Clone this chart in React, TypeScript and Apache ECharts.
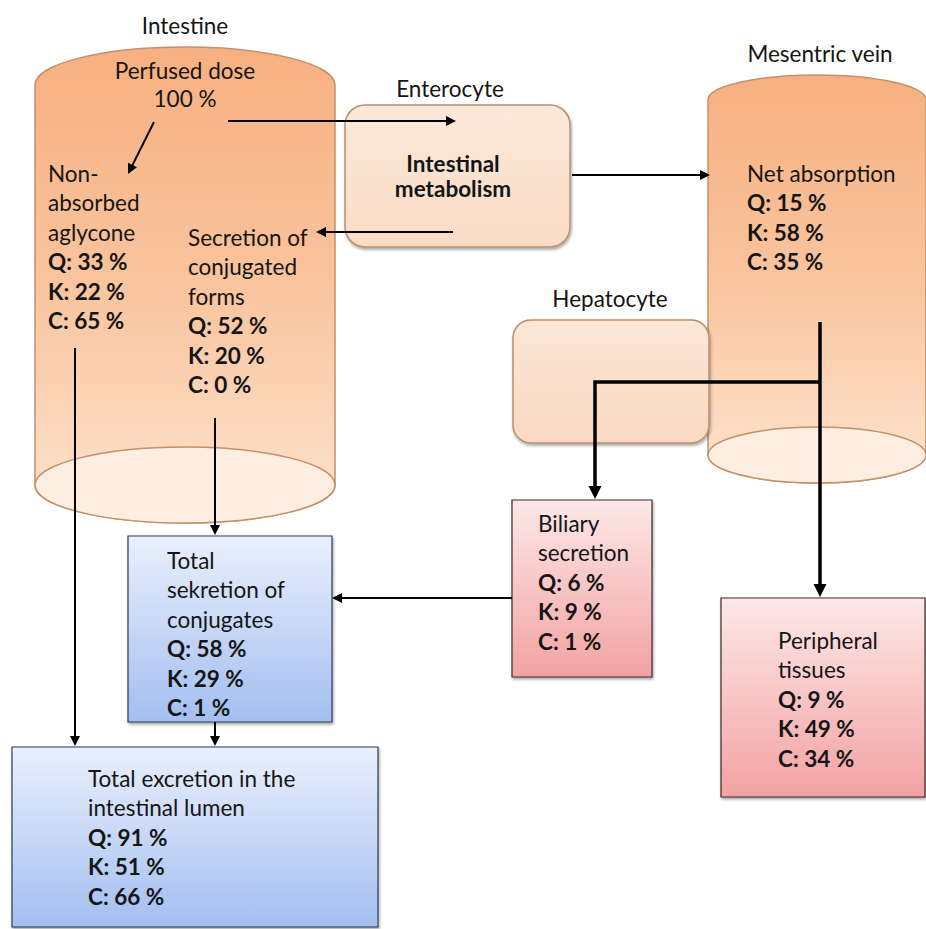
import React, { useEffect, useRef } from "react";
import * as echarts from "echarts";

// ---- data ----
const compounds = ["Q", "K", "C"];
const nonAbsorbedAglycone = [33, 22, 65];
const secretionConjugatedForms = [52, 20, 0];
const netAbsorption = [15, 58, 35];
const biliarySecretion = [6, 9, 1];
const totalSekretionConjugates = [58, 29, 1];
const totalExcretionLumen = [91, 51, 66];
const peripheralTissues = [9, 49, 34];
const perfusedDose = 100;

const FONT = "Lato, 'Open Sans', sans-serif";
const FS = 22.5;
const STEP = 29.5;

// cylinder geometry
const intestineCyl = { x0: 35, x1: 335, yTop: 85, ryTop: 38, yBot: 485, ryBot: 38 };
const veinCyl = { x0: 708, x1: 926, yTop: 100, ryTop: 25, yBot: 455, ryBot: 28 };

function cylPath(c: any) {
  const rx = (c.x1 - c.x0) / 2;
  return `M${c.x0} ${c.yTop} A${rx} ${c.ryTop} 0 0 1 ${c.x1} ${c.yTop} L${c.x1} ${c.yBot} A${rx} ${c.ryBot} 0 0 1 ${c.x0} ${c.yBot} Z`;
}

let registered = false;
function registerShapes() {
  if (registered) return;
  registered = true;
  echarts.graphic.registerShape("intestineBody", echarts.graphic.extendPath(cylPath(intestineCyl), {}) as any);
  echarts.graphic.registerShape("veinBody", echarts.graphic.extendPath(cylPath(veinCyl), {}) as any);
}

function txt(text: string, x: number, y: number, opt: any = {}) {
  return {
    type: "text",
    x,
    y,
    z: 20,
    style: {
      text,
      fontSize: opt.fontSize || FS,
      fontFamily: FONT,
      fontWeight: opt.bold ? "bold" : "normal",
      fill: "#151515",
      align: opt.align || "left",
      verticalAlign: "middle",
    },
  };
}

function block(x: number, y: number, labels: string[], vals: number[]) {
  const els: any[] = [];
  labels.forEach((l, i) => els.push(txt(l, x, y + i * STEP)));
  compounds.forEach((c, i) =>
    els.push(txt(`${c}: ${vals[i]} %`, x, y + (labels.length + i) * STEP, { bold: true }))
  );
  return els;
}

function arrowHead(x1: number, y1: number, x2: number, y2: number, len: number, half: number) {
  const dx = x2 - x1, dy = y2 - y1;
  const d = Math.hypot(dx, dy);
  const ux = dx / d, uy = dy / d;
  const bx = x2 - ux * len, by = y2 - uy * len;
  return {
    type: "polygon",
    z: 15,
    shape: { points: [[x2, y2], [bx - uy * half, by + ux * half], [bx + uy * half, by - ux * half]] },
    style: { fill: "#000" },
  };
}

function arrow(pts: number[][], w = 2, len = 10, half = 5) {
  const n = pts.length;
  const [xa, ya] = pts[n - 2];
  const [xb, yb] = pts[n - 1];
  const d = Math.hypot(xb - xa, yb - ya);
  const endX = xb - ((xb - xa) / d) * (len - 2);
  const endY = yb - ((yb - ya) / d) * (len - 2);
  const linePts = pts.slice(0, n - 1).concat([[endX, endY]]);
  return [
    {
      type: "polyline",
      z: 14,
      shape: { points: linePts },
      style: { stroke: "#000", lineWidth: w, fill: null, lineJoin: "miter" },
    },
    arrowHead(xa, ya, xb, yb, len, half),
  ];
}

const lin = (stops: [number, string][]) =>
  new echarts.graphic.LinearGradient(0, 0, 0, 1, stops.map(([offset, color]) => ({ offset, color })));

export default function App() {
  const ref = useRef<HTMLDivElement>(null);
  useEffect(() => {
    registerShapes();
    const chart = echarts.init(ref.current!, null, { renderer: "svg" });
    const cylFill = () => lin([[0, "#F7B080"], [0.5, "#F9C49E"], [1, "#FDE4CF"]]);
    const cylStroke = "#C39069";
    const boxStroke = "#B98E6C";
    const blueFill = () => lin([[0, "#EAF0FC"], [1, "#A3BEF0"]]);
    const pinkFill = () => lin([[0, "#FDE8E8"], [1, "#F3A2A2"]]);
    const shadow = { shadowBlur: 3, shadowOffsetX: 1, shadowOffsetY: 2, shadowColor: "rgba(0,0,0,0.35)" };

    const elements: any[] = [
      { type: "rect", z: 0, shape: { x: 0, y: 0, width: 926, height: 929 }, style: { fill: "#fff" } },
      // Intestine cylinder
      { type: "intestineBody", z: 1, style: { fill: cylFill(), stroke: cylStroke, lineWidth: 1.5 } },
      {
        type: "ellipse", z: 2,
        shape: { cx: (intestineCyl.x0 + intestineCyl.x1) / 2, cy: intestineCyl.yBot, rx: (intestineCyl.x1 - intestineCyl.x0) / 2, ry: intestineCyl.ryBot },
        style: { fill: "#FDEEE2", stroke: cylStroke, lineWidth: 1.5 },
      },
      // Mesentric vein cylinder
      { type: "veinBody", z: 1, style: { fill: cylFill(), stroke: cylStroke, lineWidth: 1.5 } },
      {
        type: "ellipse", z: 2,
        shape: { cx: (veinCyl.x0 + veinCyl.x1) / 2, cy: veinCyl.yBot, rx: (veinCyl.x1 - veinCyl.x0) / 2, ry: veinCyl.ryBot },
        style: { fill: "#FDEEE2", stroke: cylStroke, lineWidth: 1.5 },
      },
      // Enterocyte
      {
        type: "rect", z: 3,
        shape: { x: 345, y: 105, width: 225, height: 142, r: 20 },
        style: { fill: lin([[0, "#FCE9DA"], [1, "#FADCC6"]]), stroke: boxStroke, lineWidth: 1.5, ...shadow },
      },
      // Hepatocyte
      {
        type: "rect", z: 3,
        shape: { x: 513, y: 320, width: 196, height: 123, r: 18 },
        style: { fill: lin([[0, "#FCE6D6"], [1, "#F9D9C2"]]), stroke: boxStroke, lineWidth: 1.5, ...shadow },
      },
      // Total sekretion (blue)
      { type: "rect", z: 4, shape: { x: 128, y: 536, width: 204, height: 186 }, style: { fill: blueFill(), stroke: "#2E3B55", lineWidth: 1.2, ...shadow } },
      // Total excretion (blue)
      { type: "rect", z: 4, shape: { x: 12, y: 747, width: 366, height: 180 }, style: { fill: blueFill(), stroke: "#2E3B55", lineWidth: 1.2, ...shadow } },
      // Biliary (pink)
      { type: "rect", z: 4, shape: { x: 512, y: 500, width: 140, height: 177 }, style: { fill: pinkFill(), stroke: "#3D2A2A", lineWidth: 1.2, ...shadow } },
      // Peripheral (pink)
      { type: "rect", z: 4, shape: { x: 721, y: 598, width: 204, height: 199 }, style: { fill: pinkFill(), stroke: "#3D2A2A", lineWidth: 1.2, ...shadow } },

      // titles
      txt("Intestine", 185, 25, { align: "center" }),
      txt("Perfused dose", 185, 70, { align: "center" }),
      txt(`${perfusedDose} %`, 185, 98, { align: "center" }),
      txt("Enterocyte", 450, 88, { align: "center" }),
      txt("Intestinal", 453, 163, { align: "center", bold: true }),
      txt("metabolism", 453, 188, { align: "center", bold: true }),
      txt("Mesentric vein", 820, 53, { align: "center" }),
      txt("Hepatocyte", 610, 298, { align: "center" }),

      ...block(48, 173, ["Non-", "absorbed", "aglycone"], nonAbsorbedAglycone),
      ...block(188, 237, ["Secretion of", "conjugated", "forms"], secretionConjugatedForms),
      ...block(747, 173, ["Net absorption"], netAbsorption),
      ...block(538, 523, ["Biliary", "secretion"], biliarySecretion),
      ...block(167, 560, ["Total", "sekretion of", "conjugates"], totalSekretionConjugates),
      ...block(88, 778, ["Total excretion in the", "intestinal lumen"], totalExcretionLumen),
      ...block(778, 640, ["Peripheral", "tissues"], peripheralTissues),

      // arrows
      ...arrow([[154, 122], [128, 174]]),
      ...arrow([[228, 121], [456, 121]]),
      ...arrow([[453, 232], [316, 232]]),
      ...arrow([[572, 175], [710, 175]]),
      ...arrow([[75, 348], [75, 746]]),
      ...arrow([[215, 418], [215, 535]]),
      ...arrow([[512, 598], [332, 598]]),
      ...arrow([[215, 722], [215, 746]]),
      ...arrow([[820, 322], [820, 597]], 3.5, 13, 6.5),
      ...arrow([[820, 382], [595, 382], [595, 499]], 3.5, 13, 6.5),
    ];

    chart.setOption({
      animation: false,
      backgroundColor: "#fff",
      graphic: { elements },
    });
    return () => chart.dispose();
  }, []);
  return (
    <div
      ref={ref}
      style={{ position: "fixed", left: 0, top: 0, width: 926, height: 929, background: "#fff" }}
    />
  );
}
